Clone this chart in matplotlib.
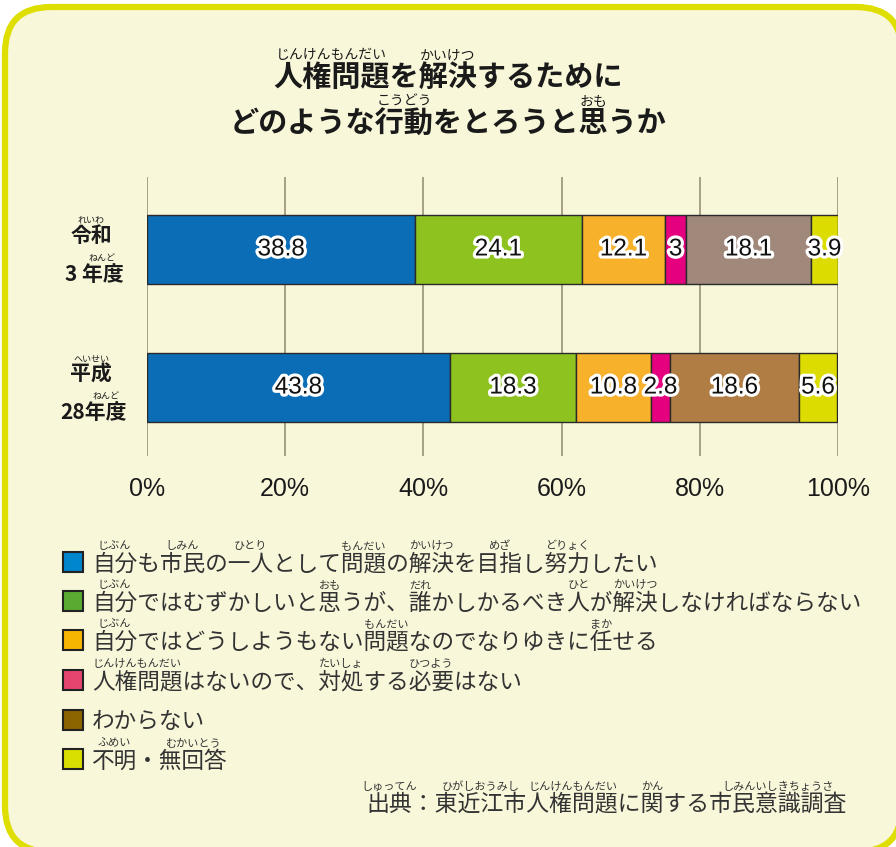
import matplotlib
matplotlib.use('Agg')
import matplotlib.pyplot as plt
import matplotlib.patheffects as pe
from matplotlib.patches import FancyBboxPatch, Rectangle
import numpy as np

JP = ['Noto Sans CJK JP', 'DejaVu Sans']
plt.rcParams['font.family'] = JP

# データ
years = ['令和3年度', '平成28年度']
reiwa3 = [38.8, 24.1, 12.1, 3, 18.1, 3.9]
heisei28 = [43.8, 18.3, 10.8, 2.8, 18.6, 5.6]
bar_colors = {
    '令和3年度': ['#0a6db5', '#8dc21f', '#f7b12b', '#e4007f', '#a0887a', '#dcdc00'],
    '平成28年度': ['#0a6db5', '#8dc21f', '#f7b12b', '#e4007f', '#b07d45', '#dcdc00'],
}
legend_colors = ['#0086cc', '#5aaa32', '#f6b500', '#e5456e', '#8c6400', '#d9df00']
xticks = [0, 20, 40, 60, 80, 100]
xtick_labels = ['0%', '20%', '40%', '60%', '80%', '100%']

# ルビ付きテキスト（本文, 読み）
title1 = [('人権問題', 'じんけんもんだい'), ('を', ''), ('解決', 'かいけつ'), ('するために', '')]
title2 = [('どのような', ''), ('行動', 'こうどう'), ('をとろうと', ''), ('思', 'おも'), ('うか', '')]
ylab = {
    '令和3年度': ([('令和', 'れいわ')], [('3 ', ''), ('年度', 'ねんど')]),
    '平成28年度': ([('平成', 'へいせい')], [('28', ''), ('年度', 'ねんど')]),
}
legend_items = [
    [('自分', 'じぶん'), ('も', ''), ('市民', 'しみん'), ('の', ''), ('一人', 'ひとり'), ('として', ''),
     ('問題', 'もんだい'), ('の', ''), ('解決', 'かいけつ'), ('を', ''), ('目指', 'めざ'), ('し', ''),
     ('努力', 'どりょく'), ('したい', '')],
    [('自分', 'じぶん'), ('ではむずかしいと', ''), ('思', 'おも'), ('うが、', ''), ('誰', 'だれ'),
     ('かしかるべき', ''), ('人', 'ひと'), ('が', ''), ('解決', 'かいけつ'), ('しなければならない', '')],
    [('自分', 'じぶん'), ('ではどうしようもない', ''), ('問題', 'もんだい'), ('なのでなりゆきに', ''),
     ('任', 'まか'), ('せる', '')],
    [('人権問題', 'じんけんもんだい'), ('はないので、', ''), ('対処', 'たいしょ'), ('する', ''),
     ('必要', 'ひつよう'), ('はない', '')],
    [('わからない', '')],
    [('不明', 'ふめい'), ('・', ''), ('無回答', 'むかいとう')],
]
source = [('出典', 'しゅってん'), ('：', ''), ('東近江市', 'ひがしおうみし'), ('人権問題', 'じんけんもんだい'),
          ('に', ''), ('関', 'かん'), ('する', ''), ('市民意識調査', 'しみんいしきちょうさ')]

W, H = 896, 847
fig = plt.figure(figsize=(W / 100, H / 100), dpi=100, facecolor='white')
renderer = fig.canvas.get_renderer()

# 背景（ピクセル座標）
bg = fig.add_axes([0, 0, 1, 1], zorder=0)
bg.set_xlim(0, W)
bg.set_ylim(H, 0)
bg.axis('off')
box = FancyBboxPatch((5, 7), 897, 845, boxstyle='round,pad=0,rounding_size=46',
                     fc='#f9f7da', ec='#dede00', lw=4.5, clip_on=False)
bg.add_patch(box)


def text_w(s, size, weight='normal'):
    if not s:
        return 0
    t = bg.text(0, 0, s, fontsize=size, fontweight=weight)
    w = t.get_window_extent(renderer).width
    t.remove()
    return w


def ruby_text(x, y, segs, size, rsize, weight='normal', ha='left', color='#1a1a1a', rcolor='#1a1a1a'):
    full = ''.join(b for b, r in segs)
    wfull = text_w(full, size, weight)
    x0 = x - wfull / 2 if ha == 'center' else (x - wfull if ha == 'right' else x)
    bg.text(x0, y, full, fontsize=size, fontweight=weight, color=color, ha='left', va='baseline')
    em = size * 100 / 72
    pre = ''
    for b, r in segs:
        if r:
            xs = x0 + text_w(pre, size, weight)
            wb = text_w(pre + b, size, weight) - text_w(pre, size, weight)
            bg.text(xs + wb / 2, y - em * 0.93, r, fontsize=rsize, color=rcolor,
                    ha='center', va='baseline')
        pre += b


ruby_text(448, 86, title1, 21, 10, weight='bold', ha='center')
ruby_text(448, 133, title2, 21, 10, weight='bold', ha='center')

ylab_base = {'令和3年度': (242, 281), '平成28年度': (381, 419)}
for yr in years:
    l1, l2 = ylab[yr]
    b1, b2 = ylab_base[yr]
    ruby_text(91, b1, l1, 15, 6.5, weight='bold', ha='center')
    ruby_text(94, b2, l2, 15, 6.5, weight='bold', ha='center')

legend_rows = [562, 601, 640, 680, 720, 759]
for item, col, yc in zip(legend_items, legend_colors, legend_rows):
    bg.add_patch(Rectangle((63, yc - 10), 20, 20, fc=col, ec='#222222', lw=1.5))
    ruby_text(92, yc + 8.5, item, 16.3, 8, color='#333333', rcolor='#333333')

ruby_text(847, 811, source, 16.5, 8, ha='right', color='#333333', rcolor='#333333')

# 棒グラフ
ax = fig.add_axes([147 / W, 1 - 456 / H, 691 / W, 279 / H], zorder=1)
ax.patch.set_alpha(0)
ypos = {'令和3年度': 1, '平成28年度': 0}
data = {'令和3年度': reiwa3, '平成28年度': heisei28}
for yr in years:
    vals = data[yr]
    left = np.concatenate([[0], np.cumsum(vals)[:-1]])
    ax.barh(ypos[yr], vals, left=left, height=0.5, color=bar_colors[yr],
            edgecolor='#2a2a2a', linewidth=1.0, zorder=2)
    for l, v in zip(left, vals):
        ax.text(l + v / 2, ypos[yr], f'{v:g}', ha='center', va='center',
                fontsize=17.5, family='Liberation Sans', color='#111111', zorder=3,
                path_effects=[pe.withStroke(linewidth=4.5, foreground='white')])

ax.set_xlim(0, 100)
ax.set_ylim(-0.496, 1.525)
ax.set_xticks(xticks)
ax.set_xticklabels(xtick_labels, fontsize=18, family='Liberation Sans', color='#1a1a1a')
ax.set_yticks([])
ax.tick_params(axis='x', length=0, pad=15)
ax.grid(axis='x', color='#8f8a70', lw=1.1, zorder=1)
ax.set_axisbelow(True)
for s in ax.spines.values():
    s.set_visible(False)

fig.savefig('out.png', dpi=100, facecolor='white')
